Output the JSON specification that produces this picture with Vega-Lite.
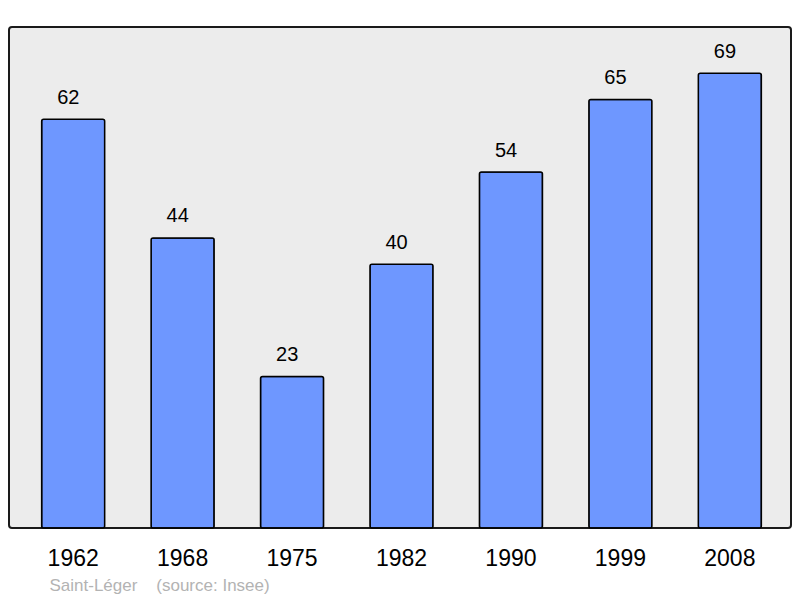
{
  "$schema": "https://vega.github.io/schema/vega-lite/v6.json",
  "width": 782,
  "height": 501,
  "autosize": {"type": "none"},
  "padding": {"left": 9, "top": 27, "right": 9, "bottom": 70},
  "background": "#ffffff",
  "config": {
    "view": {"fill": "#ececec", "stroke": "#1a1a1a", "strokeWidth": 2, "cornerRadius": 3},
    "font": "Liberation Sans"
  },
  "data": {
    "values": [
      {"year": "1962", "pop": 62},
      {"year": "1968", "pop": 44},
      {"year": "1975", "pop": 23},
      {"year": "1982", "pop": 40},
      {"year": "1990", "pop": 54},
      {"year": "1999", "pop": 65},
      {"year": "2008", "pop": 69}
    ]
  },
  "encoding": {
    "x": {
      "field": "year",
      "type": "nominal",
      "sort": null,
      "scale": {"paddingInner": 0.424, "paddingOuter": 0.28, "range": [2, 783]},
      "axis": {
        "title": "Saint-Léger\u00a0\u00a0\u00a0\u00a0(source: Insee)",
        "titleX": 40,
        "titleY": 62,
        "titleAnchor": null,
        "titleAlign": "left",
        "titleBaseline": "alphabetic",
        "titleFontSize": 17,
        "titleFontWeight": "normal",
        "titleColor": "#b3b3b3",
        "titleFont": "Liberation Sans",
        "labelAngle": 0,
        "labelFontSize": 23,
        "labelColor": "#000000",
        "labelFont": "Liberation Sans",
        "labelBaseline": "alphabetic",
        "labelPadding": 37,
        "domain": false,
        "ticks": false,
        "grid": false
      }
    },
    "y": {
      "field": "pop",
      "type": "quantitative",
      "scale": {"domain": [0, 76], "nice": false, "zero": true},
      "axis": null
    }
  },
  "layer": [
    {
      "mark": {"type": "bar", "fill": "#6e97ff", "stroke": "#000000", "strokeWidth": 1.5, "cornerRadius": 2}
    },
    {
      "mark": {"type": "text", "baseline": "alphabetic", "align": "left", "dx": 15.5, "dy": -15.5, "fontSize": 20, "color": "#000000", "font": "Liberation Sans"},
      "encoding": {
        "x": {"field": "year", "type": "nominal", "sort": null, "bandPosition": 0},
        "text": {"field": "pop", "type": "quantitative"}
      }
    }
  ]
}
